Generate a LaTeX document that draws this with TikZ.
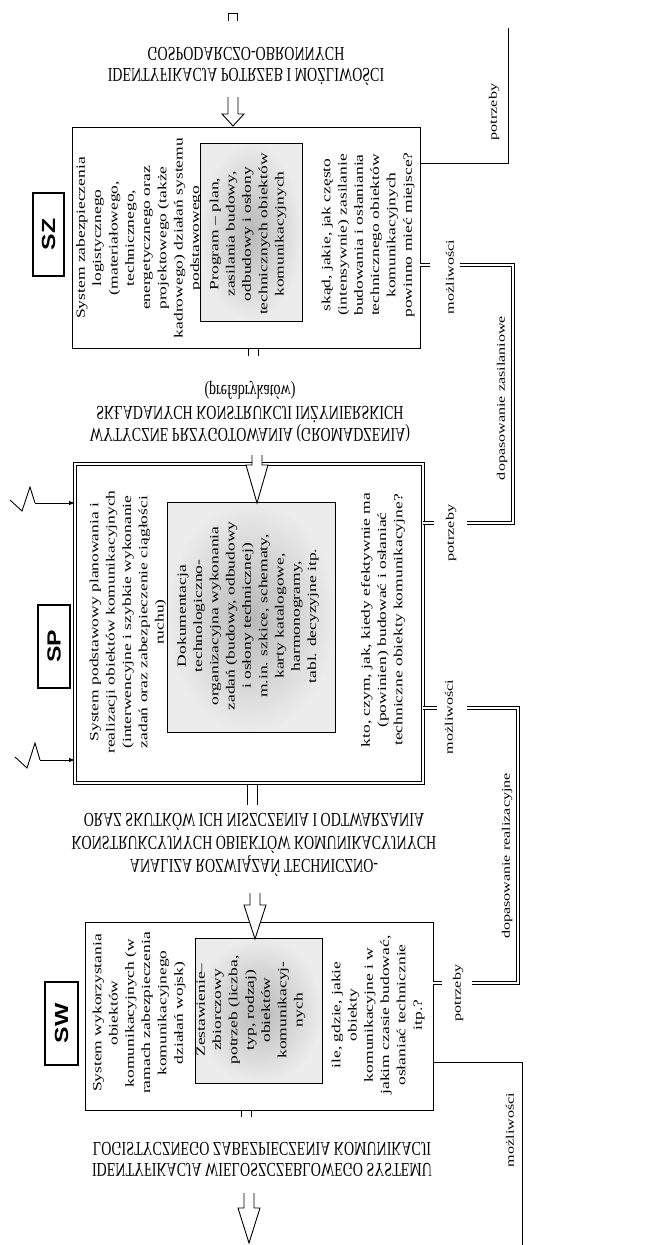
\documentclass[tikz,border=0pt]{standalone}
\usepackage{fontspec}
\usepackage{graphicx}
\setmainfont{Liberation Serif}
\newfontfamily\stretchserif[FakeStretch=1.4]{Liberation Serif}
\newfontfamily\stretchsans[FakeStretch=1.3]{Liberation Sans}
\usetikzlibrary{calc,arrows.meta}

% text set in the stretched face used inside the boxes
\newcommand{\bxfont}{\stretchserif\fontsize{12.5}{16.3}\selectfont}
\newcommand{\sidefont}{\stretchserif\fontsize{11.5}{13}\selectfont}
% headings between the stages are printed mirrored top to bottom
\newcommand{\flipped}[1]{\scalebox{1}[-1.4]{\fontsize{14}{15}\selectfont\begin{tabular}{@{}c@{}}#1\end{tabular}}}
% hollow arrow: centre x, shaft top, head base, tip
\newcommand{\hollowarrow}[4]{%
  \filldraw[fill=white, line width=0.9pt]
    (#1-5,#2) -- (#1-5,#3) -- (#1-11,#3) -- (#1,#4) -- (#1+11,#3) -- (#1+5,#3) -- (#1+5,#2);}

\begin{document}
\begin{tikzpicture}[x=1pt, y=-1pt, line join=miter,
  mainbox/.style={draw, line width=1pt, inner sep=0pt, outer sep=0pt, anchor=north west},
  labbox/.style={draw, line width=1.6pt, rotate=90, inner sep=0pt,
                 font=\stretchsans\bfseries\fontsize{19}{19}\selectfont},
  graybox/.style={draw, line width=1pt, inner sep=0pt, outer sep=0pt, anchor=north west,
                  shading=radial, inner color=gray!55, outer color=gray!15},
  boxtext/.style={rotate=90, align=center, inner sep=0pt, font=\bxfont},
  sidelab/.style={rotate=90, inner sep=0pt, font=\sidefont},
  conn/.style={line width=0.9pt},
  dbl/.style={double, double distance=1.6pt, line width=0.8pt},
  stub/.style={line width=0.9pt}]

\fill[white] (0,0) rectangle (666,1245);
\useasboundingbox (0,0) rectangle (666,1245);

% ---------- SZ stage ----------
\node[mainbox, minimum width=348pt, minimum height=221pt] (SZ) at (72,127) {};
\node[labbox, minimum width=83pt, minimum height=31pt] (SZlab) at (48.5,234.5) {SZ};
\node[boxtext] (SZt1) at (139,238) {System zabezpieczenia\\logistycznego\\(materiałowego,\\technicznego,\\energetycznego oraz\\projektowego (także\\kadrowego) działań systemu\\podstawowego};
\node[graybox, minimum width=102pt, minimum height=178pt] (SZg) at (200,143) {};
\node[boxtext] (SZt2) at (248,234) {Program – plan,\\zasilania budowy,\\odbudowy i osłony\\technicznych obiektów\\komunikacyjnych};
\node[boxtext] (SZt3) at (368,235) {skąd, jakie, jak często\\(intensywnie) zasilanie\\budowania i osłaniania\\technicznego obiektów\\komunikacyjnych\\powinno mieć miejsce?};

% ---------- SP stage ----------
\node[mainbox, double, double distance=2.8pt, line width=0.9pt, minimum width=348pt, minimum height=319pt] (SP) at (75,464) {};
\node[labbox, minimum width=83pt, minimum height=32pt] (SPlab) at (54,646.5) {SP};
\node[boxtext] (SPt1) at (128,622) {System podstawowy planowania i\\realizacji obiektów komunikacyjnych\\(interwencyjne i szybkie wykonanie\\zadań oraz zabezpieczenie ciągłości\\ruchu)};
\node[graybox, minimum width=168pt, minimum height=230pt] (SPg) at (167,502) {};
\node[boxtext] (SPt2) at (248,616) {Dokumentacja\\technologiczno-\\organizacyjna wykonania\\zadań (budowy, odbudowy\\i osłony technicznej)\\m.in. szkice, schematy,\\karty katalogowe,\\harmonogramy,\\tabl. decyzyjne itp.};
\node[boxtext] (SPt3) at (383,620) {kto, czym, jak, kiedy efektywnie ma\\(powinien) budować i osłaniać\\techniczne obiekty komunikacyjne?};

% ---------- SW stage ----------
\node[mainbox, minimum width=348pt, minimum height=188pt] (SW) at (85,922) {};
\node[labbox, minimum width=83pt, minimum height=33pt] (SWlab) at (61.5,1023.5) {SW};
\node[boxtext] (SWt1) at (139,1013) {System wykorzystania\\obiektów\\komunikacyjnych (w\\ramach zabezpieczenia\\komunikacyjnego\\działań wojsk)};
\node[graybox, minimum width=127pt, minimum height=145pt] (SWg) at (195,938) {};
\node[boxtext] (SWt2) at (251,1010) {Zestawienie–\\zbiorczowy\\potrzeb (liczba,\\typ, rodzaj)\\obiektów\\komunikacyj-\\nych};
\node[boxtext] (SWt3) at (378,1015) {ile, gdzie, jakie\\obiekty\\komunikacyjne i w\\jakim czasie budować,\\osłaniać technicznie\\itp.?};

% ---------- headings between the stages ----------
\node[inner sep=0pt] (H1) at (246,63) {\flipped{IDENTYFIKACJA POTRZEB I MOŻLIWOŚCI\\GOSPODARCZO-OBRONNYCH}};
\node[inner sep=0pt] (H2) at (250,411) {\flipped{WYTYCZNE PRZYGOTOWANIA (GROMADZENIA)\\SKŁADANYCH KONSTRUKCJI INŻYNIERSKICH\\(prefabrykatów)}};
\node[inner sep=0pt] (H3) at (254,842) {\flipped{ANALIZA ROZWIĄZAŃ TECHNICZNO-\\KONSTRUKCYJNYCH OBIEKTÓW KOMUNIKACYJNYCH\\ORAZ SKUTKÓW ICH NISZCZENIA I ODTWARZANIA}};
\node[inner sep=0pt] (H4) at (262,1157) {\flipped{IDENTYFIKACJA WIELOSZCZEBLOWEGO SYSTEMU\\LOGISTYCZNEGO ZABEZPIECZENIA KOMUNIKACJI}};

% ---------- flow arrows down the middle ----------
\draw[stub] (228,21) -- (228,13) -- (237,13) -- (237,21);
\filldraw[fill=white, line width=0.9pt]
  (228,97) -- (228,114) -- (222,114) -- (233,126) -- (244,114) -- (238,114) -- (238,97);
\draw[stub] (248,348) -- (248,356) (258,348) -- (258,356);
\hollowarrow{257}{455}{465}{503}
\draw[stub] (247,785) -- (247,805) (257,785) -- (257,805);
\hollowarrow{255}{893}{905}{939}
\draw[stub] (241,1110) -- (241,1117) (251,1110) -- (251,1117);
\hollowarrow{249}{1193}{1208}{1243}

% ---------- disturbance inputs into SP ----------
\coordinate (z1) at (10,500);
\coordinate (z1b) at (35,503);
\draw[conn] (z1) -- (22,511) -- (30,487) -- (z1b);
\draw[conn, -{Latex[length=6pt,width=4.5pt]}] (z1b) -- (SP.west |- z1b);
\coordinate (z2) at (15,757);
\coordinate (z2b) at (40,760);
\draw[conn] (z2) -- (27,768) -- (35,743) -- (z2b);
\draw[conn, -{Latex[length=6pt,width=4.5pt]}] (z2b) -- (SP.west |- z2b);

% ---------- feedback lines on the right ----------
% needs of SZ
\coordinate (A1) at (508,163);
\coordinate (A2) at (508,28);
\draw[conn] (SZ.east |- A1) -- (A1) -- (A2);
\node[sidelab] (lA) at (494,112) {potrzeby};

% supply matching between SZ and SP
\coordinate (B0) at (430,265);
\coordinate (B1) at (460,265);
\coordinate (B2) at (513,265);
\coordinate (B3) at (513,523);
\coordinate (B4) at (467,523);
\coordinate (B5) at (434,523);
\draw[dbl] (SZ.east |- B0) -- (B0);
\draw[dbl] (B1) -- (B2) -- (B3) -- (B4);
\draw[dbl] (SP.east |- B5) -- (B5);
\node[sidelab] (lB1) at (450,277) {możliwości};
\node[sidelab] (lB2) at (451,533) {potrzeby};
\node[sidelab] (lB3) at (502,398) {dopasowanie zasilaniowe};

% realisation matching between SP and SW
\coordinate (C0) at (437,708);
\coordinate (C1) at (467,708);
\coordinate (C2) at (518,708);
\coordinate (C3) at (518,983);
\coordinate (C4) at (472,983);
\coordinate (C5) at (442,983);
\draw[dbl] (SP.east |- C0) -- (C0);
\draw[dbl] (C1) -- (C2) -- (C3) -- (C4);
\draw[dbl] (SW.east |- C5) -- (C5);
\node[sidelab] (lC1) at (449,717) {możliwości};
\node[sidelab] (lC2) at (458,993) {potrzeby};
\node[sidelab] (lC3) at (507,856) {dopasowanie realizacyjne};

% capabilities of SW
\coordinate (D1) at (522,1062);
\coordinate (D2) at (522,1245);
\draw[conn] (SW.east |- D1) -- (D1) -- (D2);
\node[sidelab] (lD) at (510,1130) {możliwości};

\end{tikzpicture}
\end{document}
